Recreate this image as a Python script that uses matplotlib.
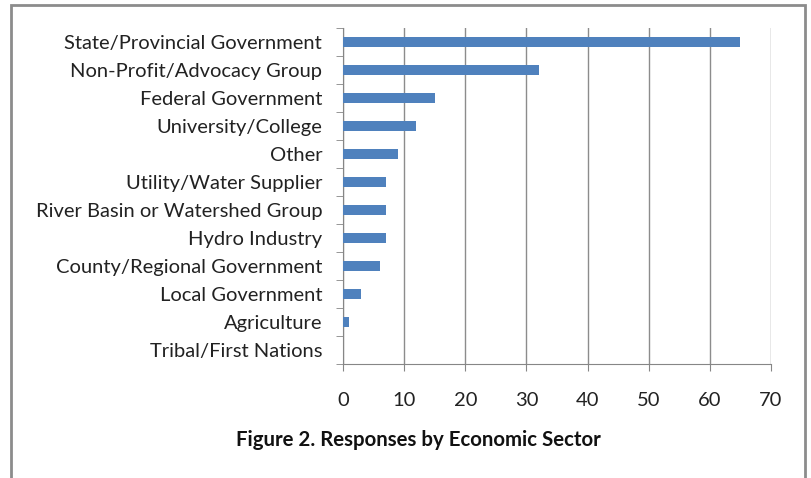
import matplotlib.pyplot as plt
from matplotlib.patches import Rectangle
import numpy as np

sectors = [
    "State/Provincial Government",
    "Non-Profit/Advocacy Group",
    "Federal Government",
    "University/College",
    "Other",
    "Utility/Water Supplier",
    "River Basin or Watershed Group",
    "Hydro Industry",
    "County/Regional Government",
    "Local Government",
    "Agriculture",
    "Tribal/First Nations",
]
responses = [65, 32, 15, 12, 9, 7, 7, 7, 6, 3, 1, 0]
xticks = [0, 10, 20, 30, 40, 50, 60, 70]

plt.rcParams['font.family'] = ['Lato', 'DejaVu Sans']

fig = plt.figure(figsize=(8.12, 4.78), dpi=100)
ax = fig.add_axes([0.4224, 0.2385, 0.5271, 0.7029])

y = np.arange(len(sectors))
ax.barh(y, responses, height=0.36, color='#4F81BD', zorder=3)
ax.set_ylim(len(sectors) - 0.5, -0.5)
ax.set_xlim(0, 70)

ax.set_xticks(xticks)
ax.set_yticks(y)
ax.set_yticklabels(sectors, fontsize=14.5, color='#222222')
ax.set_yticks(np.arange(len(sectors) + 1) - 0.5, minor=True)
ax.tick_params(axis='y', which='major', length=0, pad=15)
ax.tick_params(axis='y', which='minor', length=5, color='#868686', direction='out')
ax.tick_params(axis='x', length=5, color='#868686', direction='out', pad=15,
               labelsize=14.5, labelcolor='#222222')

ax.grid(axis='x', color='#8C8C8C', linewidth=1, zorder=0)
for side in ['top', 'right']:
    ax.spines[side].set_visible(False)
for side in ['left', 'bottom']:
    ax.spines[side].set_color('#868686')

fig.text(0.515, 0.08, "Figure 2. Responses by Economic Sector", ha='center', va='center',
         fontsize=14.7, fontweight='bold', color='#111111')

fig.patches.append(Rectangle((0.013, -0.05), 0.978, 1.04, transform=fig.transFigure,
                             fill=False, edgecolor='#8C8C8C', linewidth=2))

fig.savefig('out.png', dpi=100)
